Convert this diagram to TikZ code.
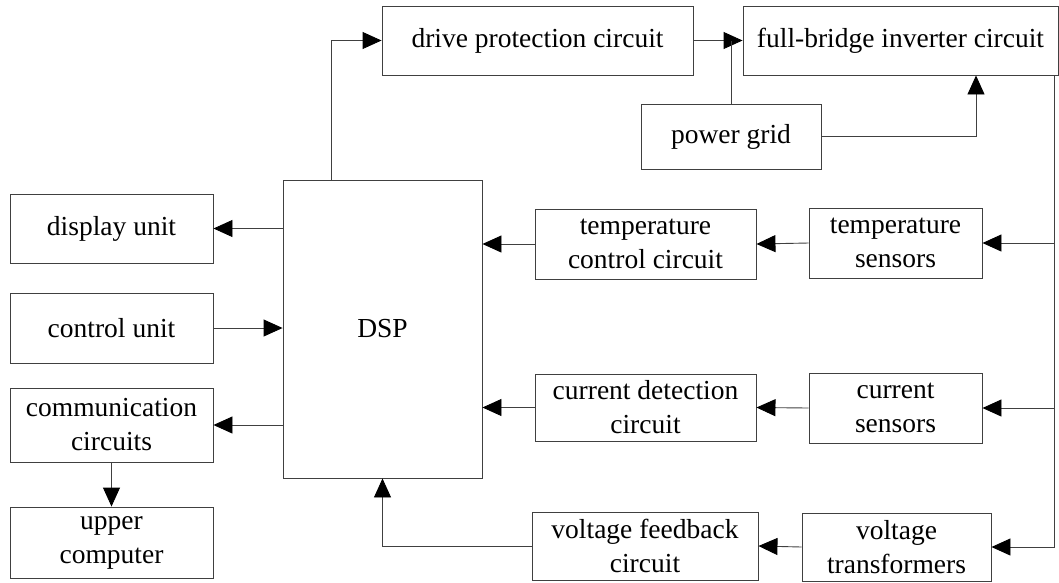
\documentclass[tikz,border=0pt]{standalone}
\usepackage{fontspec}
\setmainfont{Liberation Serif}
\usetikzlibrary{arrows.meta,calc}
\begin{document}
\begin{tikzpicture}[x=1pt,y=-1pt,
  box/.style={draw=black!75, line width=0.9pt, inner sep=0pt, align=center,
    font=\fontsize{27.5}{34}\selectfont},
  line/.style={draw=black!75, line width=0.9pt},
  arr/.style={line, -{Triangle[length=19pt,width=17pt,color=black]}}]
\useasboundingbox (0,0) rectangle (1059,582);
\node[box, minimum width=311pt, minimum height=69pt] (drive) at (537.5,40.5) {drive protection circuit};
\node[box, minimum width=315pt, minimum height=69pt] (full) at (900.5,40.5) {full-bridge inverter circuit};
\node[box, minimum width=180pt, minimum height=65pt] (power) at (731,136.5) {power grid};
\node[box, minimum width=203pt, minimum height=69pt] (display) at (111.5,228.5) {display unit};
\node[box, minimum width=203pt, minimum height=70pt] (control) at (111.5,328) {control unit};
\node[box, minimum width=203pt, minimum height=74pt] (comm) at (111.5,425) {communication\\circuits};
\node[box, minimum width=203pt, minimum height=71pt] (upper) at (111.5,542.5) {upper\\computer};
\node[box, minimum width=199pt, minimum height=298pt] (dsp) at (382.5,329) {DSP};
\node[box, minimum width=221pt, minimum height=70pt] (tcc) at (645.5,244) {temperature\\control circuit};
\node[box, minimum width=173pt, minimum height=70pt] (ts) at (895.5,243) {temperature\\sensors};
\node[box, minimum width=221pt, minimum height=67pt] (cdc) at (645.5,407.5) {current detection\\circuit};
\node[box, minimum width=173pt, minimum height=70pt] (cs) at (895.5,408) {current\\sensors};
\node[box, minimum width=226pt, minimum height=68pt] (vf) at (645,546) {voltage feedback\\circuit};
\node[box, minimum width=189pt, minimum height=68pt] (vt) at (896.5,547) {voltage\\transformers};
\coordinate (bus) at ([xshift=-4pt]full.south east);
\coordinate (dsptop) at ([xshift=49pt]dsp.north west);
\coordinate (fullin) at ([xshift=75.5pt]full.south);
\draw[arr] (dsptop) |- (drive.west);
\draw[arr] (drive.east) -- (full.west);
\draw[line] (power.north) -- (power.north |- drive.east);
\draw[arr] (power.east) -| (fullin);
\draw[arr] (bus) |- (vt.east);
\draw[arr] (bus |- ts.east) -- (ts.east);
\draw[arr] (bus |- cs.east) -- (cs.east);
\draw[arr] (ts.west) -- (tcc.east);
\draw[arr] (tcc.west) -- (tcc.west -| dsp.east);
\draw[arr] (cs.west) -- (cdc.east);
\draw[arr] (cdc.west) -- (cdc.west -| dsp.east);
\draw[arr] (vt.west) -- (vf.east);
\draw[arr] (vf.west) -| (dsp.south);
\draw[arr] (dsp.west |- display.east) -- (display.east);
\draw[arr] (control.east) -- (control.east -| dsp.west);
\draw[arr] (dsp.west |- comm.east) -- (comm.east);
\draw[arr] (comm.south) -- (upper.north);
\end{tikzpicture}
\end{document}
